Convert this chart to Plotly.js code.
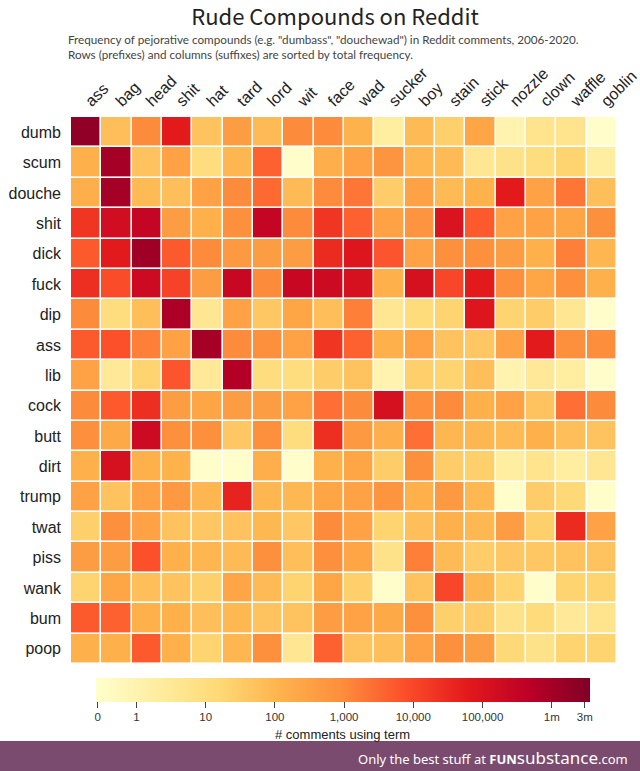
<!DOCTYPE html>
<html>
<head>
<meta charset="utf-8">
<script src="https://cdn.plot.ly/plotly-3.0.1.min.js"></script>
<style>
  html, body { margin: 0; padding: 0; background: #ffffff; }
  #chart { width: 640px; height: 771px; }
</style>
</head>
<body>
<div id="chart"></div>
<script>
// Suffixes (columns) and prefixes (rows), sorted by total frequency
const suffixes = ["ass", "bag", "head", "shit", "hat", "tard", "lord", "wit", "face", "wad",
                  "sucker", "boy", "stain", "stick", "nozzle", "clown", "waffle", "goblin"];
const prefixes = ["dumb", "scum", "douche", "shit", "dick", "fuck", "dip", "ass", "lib",
                  "cock", "butt", "dirt", "trump", "twat", "piss", "wank", "bum", "poop"];

// Estimated number of comments using each compound (row = prefix, column = suffix)
const counts = [
  /* dumb   */ [2000000, 60, 1000, 60000, 50, 400, 80, 1000, 1000, 120, 2, 80, 25, 250, 1, 5, 5, 0],
  /* scum   */ [130, 1000000, 50, 300, 10, 100, 4000, 0, 150, 300, 600, 100, 80, 4, 6, 10, 20, 2],
  /* douche */ [150, 1000000, 80, 60, 300, 1000, 3000, 80, 1000, 2000, 30, 300, 80, 120, 60000, 300, 2000, 60],
  /* shit   */ [20000, 150000, 300000, 400, 130, 800, 300000, 1000, 20000, 4000, 300, 600, 100000, 5000, 300, 300, 250, 800],
  /* dick   */ [5000, 60000, 1300000, 5000, 1000, 500, 400, 400, 30000, 80000, 6000, 300, 800, 800, 400, 130, 1500, 100],
  /* fuck   */ [25000, 8000, 200000, 12000, 400, 250000, 1000, 250000, 200000, 120000, 130, 120000, 10000, 60000, 800, 250, 800, 130],
  /* dip    */ [1000, 10, 60, 800000, 4, 300, 40, 250, 60, 1500, 4, 12, 20, 80000, 20, 30, 4, 0],
  /* ass    */ [5000, 7000, 1500, 300, 1000000, 1000, 800, 300, 20000, 4000, 130, 300, 50, 40, 300, 60000, 800, 900],
  /* lib    */ [300, 3, 20, 6000, 3, 600000, 10, 10, 30, 50, 1, 25, 20, 60, 1, 3, 2, 0],
  /* cock   */ [1000, 5000, 25000, 400, 250, 400, 400, 300, 2500, 1000, 120000, 800, 1000, 130, 300, 50, 2500, 1000],
  /* butt   */ [800, 200, 200000, 800, 800, 40, 800, 10, 25000, 500, 150, 2500, 100, 100, 80, 130, 60, 50],
  /* dirt   */ [130, 120000, 130, 120, 0, 0, 150, 0, 130, 250, 30, 800, 30, 25, 2, 5, 2, 4],
  /* trump  */ [300, 50, 300, 500, 100, 40000, 100, 90, 250, 300, 600, 130, 500, 90, 0, 30, 15, 0],
  /* twat   */ [25, 800, 300, 50, 40, 50, 90, 40, 1000, 300, 20, 60, 130, 90, 400, 25, 30000, 300],
  /* piss   */ [400, 400, 7000, 130, 100, 80, 800, 60, 800, 250, 6, 1500, 80, 30, 40, 40, 50, 50],
  /* wank   */ [20, 250, 60, 50, 25, 250, 80, 20, 250, 25, 0, 50, 10000, 100, 20, 0, 20, 20],
  /* bum    */ [5000, 4000, 130, 130, 60, 90, 50, 50, 400, 300, 200, 800, 25, 30, 6, 12, 3, 5],
  /* poop   */ [130, 130, 5000, 130, 20, 100, 800, 4, 4000, 50, 60, 300, 800, 400, 15, 6, 20, 20]
];

// Colour bar tick values (comment counts) and their labels
const barTickCounts = [0, 1, 10, 100, 1000, 10000, 100000, 1000000, 3000000];
const barTickLabels = ["0", "1", "10", "100", "1,000", "10,000", "100,000", "1m", "3m"];

// Scale: log10 of count, with zero placed a little more than half a decade below 1
const ZERO_POS = -0.56;
const Z_MIN = -0.59;
const Z_MAX = 6.546;
const toScale = v => (v <= 0 ? ZERO_POS : Math.log10(v));

const z = counts.map(row => row.map(toScale));
const text = counts.map(row => row.map(v => v.toLocaleString("en-US")));

const colorscale = [
  [0.000, "#ffffcc"],
  [0.125, "#ffeda0"],
  [0.250, "#fed976"],
  [0.375, "#feb24c"],
  [0.500, "#fd8d3c"],
  [0.625, "#fc4e2a"],
  [0.750, "#e31a1c"],
  [0.875, "#bd0026"],
  [1.000, "#800026"]
];

const W = 640, H = 771;
const plotL = 71, plotR = 617, plotT = 117, plotB = 664;
const SANS = "Liberation Sans, Arial, sans-serif";
const KR = "Noto Sans CJK KR, Noto Sans, sans-serif";

const trace = {
  type: "heatmap",
  x: suffixes,
  y: prefixes,
  z: z,
  text: text,
  hovertemplate: "%{y}%{x}: %{text}<extra></extra>",
  colorscale: colorscale,
  zmin: Z_MIN,
  zmax: Z_MAX,
  xgap: 1.6,
  ygap: 1.6,
  colorbar: {
    orientation: "h",
    xref: "container",
    yref: "container",
    x: 112 / W,
    xanchor: "left",
    y: 1 - 678 / H,
    yanchor: "top",
    len: 494,
    lenmode: "pixels",
    thickness: 24,
    thicknessmode: "pixels",
    xpad: 0,
    ypad: 0,
    outlinewidth: 0,
    ticks: "outside",
    ticklen: 6,
    tickwidth: 1,
    tickcolor: "#444",
    ticklabeloverflow: "allow",
    tickvals: barTickCounts.map(toScale),
    ticktext: barTickLabels,
    tickfont: { family: SANS, size: 11.5, color: "#333" },
    title: {
      text: "# comments using term",
      side: "bottom",
      font: { family: SANS, size: 13, color: "#222" }
    }
  }
};

const layout = {
  width: W,
  height: H,
  paper_bgcolor: "#ffffff",
  plot_bgcolor: "#ffffff",
  margin: { l: plotL, r: W - plotR, t: plotT, b: H - plotB, autoexpand: false },
  title: {
    text: "Rude Compounds on Reddit",
    x: 335 / W,
    xref: "container",
    xanchor: "center",
    y: 1 - 17 / H,
    yref: "container",
    yanchor: "middle",
    font: { family: KR, size: 22, color: "#222" }
  },
  xaxis: {
    side: "top",
    tickangle: -45,
    showgrid: false,
    zeroline: false,
    showline: false,
    ticks: "",
    ticklabelstandoff: 3,
    tickfont: { family: SANS, size: 16, color: "#222" },
    fixedrange: true
  },
  yaxis: {
    autorange: "reversed",
    showgrid: false,
    zeroline: false,
    showline: false,
    ticks: "",
    ticklabelstandoff: 9,
    tickfont: { family: SANS, size: 16, color: "#222" },
    fixedrange: true
  },
  annotations: [
    {
      text: "Frequency of pejorative compounds (e.g. \"dumbass\", \"douchewad\") in Reddit comments, 2006-2020.<br>" +
            "Rows (prefixes) and columns (suffixes) are sorted by total frequency.",
      xref: "paper", yref: "paper",
      x: (66 - plotL) / (plotR - plotL),
      y: 1 + (plotT - 46.5) / (plotB - plotT),
      xanchor: "left", yanchor: "middle", align: "left", showarrow: false,
      font: { family: "Lato, Noto Sans, sans-serif", size: 11.7, color: "#444" }
    },
    {
      text: "Only the best stuff at <b>FUN</b><span style=\"font-size:17px\">substance</span>.com",
      xref: "paper", yref: "paper",
      x: (630 - plotL) / (plotR - plotL),
      y: -(757 - plotB) / (plotB - plotT),
      xanchor: "right", yanchor: "middle", align: "right", showarrow: false,
      font: { family: "Noto Sans, sans-serif", size: 13, color: "#ffffff" }
    }
  ],
  shapes: [
    {
      type: "rect", xref: "paper", yref: "paper", layer: "below",
      x0: -plotL / (plotR - plotL), x1: 1 + (W - plotR) / (plotR - plotL),
      y0: -(H - plotB) / (plotB - plotT), y1: -(741 - plotB) / (plotB - plotT),
      fillcolor: "#7a4b6e", line: { width: 0 }
    }
  ]
};

Plotly.newPlot("chart", [trace], layout, { displayModeBar: false, staticPlot: true });
</script>
</body>
</html>
